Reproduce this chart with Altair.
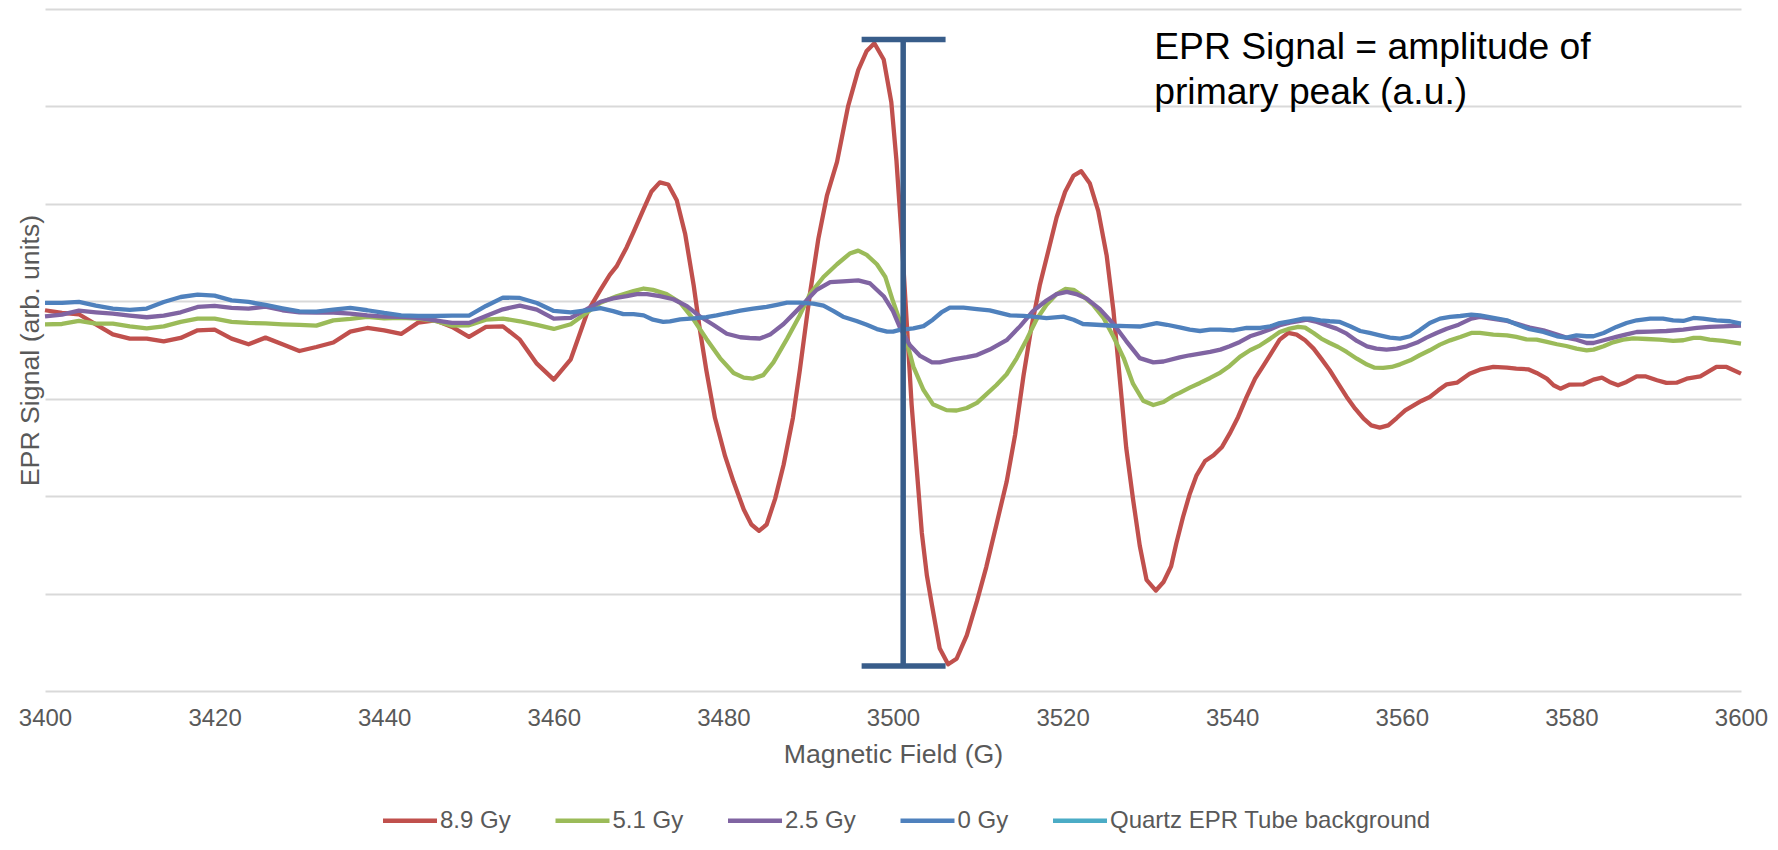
import altair as alt
import pandas as pd

FONT = "Liberation Sans"
GREY = "#595959"

series_names = ["8.9 Gy", "5.1 Gy", "2.5 Gy", "0 Gy", "Quartz EPR Tube background"]
series_colors = ["#C0504D", "#9BBB59", "#8064A2", "#4F81BD", "#4BACC6"]

grid2 = [3400 + 2 * i for i in range(33)]  # 3400..3464

red_x = grid2 + [3465.5, 3466.6, 3467.4, 3468.6, 3469.4, 3470.6, 3471.5, 3472.5, 3473.5, 3474.5,
    3475.5, 3476.5, 3477.2, 3478.0, 3479.0, 3480.2, 3481.2, 3482.4, 3483.3, 3484.2, 3485.1, 3486.1,
    3487.1, 3488.2, 3489.0, 3490.2, 3491.2, 3492.2, 3493.4, 3494.7, 3495.9, 3496.9, 3497.8, 3498.9,
    3499.8, 3500.4, 3501.0, 3501.6, 3502.2, 3502.8, 3503.4, 3504.0, 3504.6, 3505.5, 3506.5, 3507.5,
    3508.7, 3509.9, 3511.0, 3512.2, 3513.4, 3514.4, 3515.4, 3516.3, 3517.3, 3518.3, 3519.3, 3520.3,
    3521.3, 3522.2, 3523.2, 3524.2, 3525.2, 3526.0, 3526.8, 3527.5, 3528.3, 3529.1, 3529.9, 3531.0,
    3531.9, 3532.8, 3533.4, 3534.2, 3535.0, 3535.8, 3536.8, 3537.8, 3538.8, 3539.7, 3540.7, 3541.7,
    3542.7, 3543.7, 3544.7, 3545.6, 3546.6, 3547.6, 3548.6, 3549.6, 3550.5, 3551.5, 3552.5, 3553.5,
    3554.5, 3555.5, 3556.4, 3557.4, 3558.4, 3559.4, 3560.4, 3561.4, 3562.3, 3563.3, 3564.3, 3565.3,
    3566.5, 3568.0, 3569.2, 3570.8, 3572.4, 3573.5, 3574.9, 3575.9, 3577.1, 3577.9, 3578.7, 3579.8,
    3581.4, 3582.6, 3583.6, 3584.5, 3585.5, 3586.5, 3587.7, 3588.7, 3590.1, 3591.2, 3592.4, 3593.6,
    3595.2, 3596.1, 3597.1, 3598.3, 3600.0]
red_y = [390.8, 388.0, 386.7, 376.4, 366.1, 361.7, 361.7, 358.9, 362.4, 370.2, 370.9, 361.7, 355.9,
    362.7, 355.9, 349.0, 353.1, 357.7, 368.9, 372.6, 370.2, 366.5, 378.1, 380.5, 373.7, 363.4, 373.7,
    374.3, 360.6, 336.0, 319.6, 340.5, 389.7,
    411.7, 427.1, 435.8, 455.5, 470.9, 494.9, 512.4, 522.1, 519.9, 503.7,
    468.7, 416.1, 372.4, 328.6, 280.4, 241.0, 214.7, 186.3, 170.9, 164.4, 170.9, 197.2,
    232.2, 280.4, 328.6, 407.4, 464.3, 508.1, 543.1, 600.0, 637.2, 656.9, 664.8, 648.2,
    604.4, 545.3, 469.0, 381.1, 293.5, 227.9, 162.2, 118.4, 87.8, 44.0, 27.4, 33.1,
    57.1, 92.2, 127.2, 171.0, 214.7, 262.9, 324.2, 372.3, 416.1, 451.1, 486.2, 512.4,
    529.1, 533.5, 521.2, 492.7, 446.8, 389.9, 315.4, 249.8, 197.2, 149.1, 114.0, 103.1,
    111.9, 128.0, 151.2, 178.6, 202.5, 221.4, 236.1, 241.9, 250.5, 264.1, 281.3, 301.8,
    320.6, 334.3, 348.0, 360.6, 367.5, 365.8, 360.0, 351.4, 341.1, 329.2, 315.5, 301.8,
    289.8, 279.5, 272.7, 270.3, 272.7, 280.2, 288.1, 293.2, 297.7, 301.8, 308.6, 314.8,
    316.5, 325.7, 329.8, 332.6, 331.9, 330.9, 330.2, 326.4, 320.6, 313.8, 310.3, 314.5,
    314.8, 319.6, 321.6, 317.2, 313.8, 317.2, 323.0, 323.0, 318.9, 316.2, 316.5, 320.6,
    323.0, 327.5, 332.6, 332.6, 325.7]

green_x = grid2 + [3465.5, 3467.4, 3469.4, 3470.6, 3471.7, 3473.3, 3474.9, 3476.5, 3478.0, 3479.6,
    3481.2, 3482.4, 3483.5, 3484.7, 3485.9, 3487.5, 3489.0, 3490.2, 3491.8, 3493.4, 3494.9, 3495.9,
    3496.9, 3498.1, 3499.1, 3500.0, 3500.8, 3501.6, 3502.4, 3503.6, 3504.7, 3506.3, 3507.5, 3508.7,
    3509.9, 3511.0, 3512.2, 3513.4, 3514.6, 3515.8, 3516.9, 3518.1, 3519.3, 3520.3, 3521.3, 3522.4,
    3523.6, 3524.8, 3526.0, 3527.2, 3528.3, 3529.5, 3530.7, 3531.9, 3533.1, 3533.8, 3535.0, 3536.2,
    3537.4, 3538.6, 3539.7, 3540.9, 3542.1, 3543.3, 3544.5, 3545.6, 3546.8, 3547.8, 3548.6, 3549.6,
    3550.5, 3551.5, 3552.5, 3553.5, 3554.7, 3555.9, 3556.8, 3557.8, 3558.8, 3559.8, 3561.0, 3562.1,
    3563.3, 3564.5, 3565.7, 3566.9, 3568.2, 3569.2, 3570.8, 3572.4, 3573.5, 3574.7, 3575.9, 3577.1,
    3578.3, 3579.4, 3580.6, 3581.8, 3582.6, 3583.8, 3584.9, 3586.1, 3587.3, 3588.9, 3590.4, 3592.0,
    3593.2, 3594.4, 3595.2, 3596.3, 3597.9, 3600.0]
green_y = [376.4, 376.7, 379.8, 377.1, 377.1, 374.3, 372.3, 374.3, 378.8, 382.2, 382.2, 378.8, 377.8,
    377.4, 376.4, 375.7, 375.0, 380.4, 381.9, 383.9, 382.5, 382.9, 382.2, 379.8, 375.0, 375.4, 381.2,
    382.2, 379.5, 375.7, 371.6, 376.4, 389.0,
    398.6, 405.2, 410.4, 413.1, 411.7, 407.4, 398.6, 381.1, 361.4, 341.7,
    326.4, 321.6, 320.7, 324.2, 337.3, 361.4, 385.5, 407.4, 424.9, 438.0, 449.0, 452.0,
    447.6, 438.0, 424.9, 400.0, 380.0, 359.2, 332.9, 308.9, 294.4, 288.3, 287.9, 290.5,
    295.7, 304.5, 314.1, 325.1, 341.7, 361.4, 381.1, 396.4, 407.4, 412.6, 411.7, 405.2,
    396.4, 383.3, 363.6, 341.7, 315.4, 297.9, 293.5, 296.6, 303.2, 306.0, 311.4, 316.2,
    321.3, 326.8, 333.6, 342.9, 349.7, 354.8, 361.7, 368.5, 371.9, 373.7, 373.0, 367.5,
    361.7, 357.2, 353.1, 348.0, 341.1, 335.0, 331.9, 331.6, 332.6, 335.3, 339.4, 344.6,
    349.7, 355.5, 359.9, 363.4, 367.5, 367.5, 365.8, 365.1, 363.4, 361.0, 360.6, 358.3,
    355.9, 354.1, 351.4, 349.7, 350.4, 353.8, 357.9, 360.6, 362.0, 361.3, 360.6, 359.3,
    360.0, 362.4, 362.4, 360.6, 359.3, 356.5]

purple_x = grid2 + [3465.5, 3467.0, 3468.6, 3469.8, 3471.0, 3472.5, 3474.1, 3475.7, 3477.2, 3478.8,
    3480.4, 3482.0, 3483.1, 3484.3, 3485.5, 3487.1, 3488.6, 3489.8, 3491.0, 3492.6,
    3494.1, 3495.9, 3497.3, 3498.9, 3500.0, 3500.8, 3502.0, 3503.2, 3504.6, 3505.5,
    3507.1, 3508.7, 3509.9, 3511.4, 3513.4, 3515.0, 3516.5, 3518.1, 3519.3, 3520.5,
    3521.6, 3522.8, 3524.4, 3526.0, 3527.5, 3529.1, 3530.7, 3531.9, 3533.8, 3535.0,
    3536.2, 3537.4, 3538.6, 3539.7, 3540.9, 3542.1, 3543.3, 3544.5, 3545.6, 3546.8,
    3548.0, 3548.8, 3550.0, 3551.1, 3552.3, 3553.5, 3554.7, 3555.9, 3557.0, 3558.2,
    3559.4, 3560.6, 3561.8, 3562.9, 3564.1, 3565.3, 3566.7, 3568.2, 3569.2, 3570.8,
    3572.4, 3573.5, 3575.1, 3576.7, 3578.3, 3579.4, 3580.6, 3581.8, 3582.6, 3583.8,
    3585.3, 3586.5, 3587.7, 3589.3, 3591.2, 3593.2, 3594.8, 3596.3, 3597.9, 3600.0]
purple_y = [384.6, 386.3, 390.4, 388.7, 387.3, 385.3, 383.6, 385.3, 388.7, 394.2, 395.2, 393.2, 392.5,
    394.5, 390.8, 388.7, 388.4, 388.5, 387.3, 385.6, 384.3, 383.9, 382.9, 380.5, 377.8, 377.8, 384.9,
    391.8, 395.6, 391.4, 382.2, 382.9, 392.5,
    399.5, 403.0, 405.2, 407.4, 407.4, 405.2, 402.1, 395.1, 384.6, 375.9,
    366.7, 363.1, 362.3, 361.8, 365.8, 376.7, 389.9, 400.8, 411.7, 419.6,
    420.5, 421.4, 418.3, 405.2, 389.9, 373.4, 354.8, 343.9, 337.3, 337.3,
    340.4, 342.6, 344.8, 350.5, 360.1, 374.5, 389.9, 400.8, 407.4, 409.6,
    407.4, 403.0, 392.0, 376.7, 359.2, 341.7, 337.3, 338.2, 342.4, 344.6,
    346.3, 348.0, 350.4, 353.8, 358.3, 364.1, 367.5, 371.3, 375.4, 378.1,
    379.8, 381.2, 378.8, 375.4, 371.9, 366.8, 359.3, 353.8, 351.4, 350.4,
    351.4, 353.8, 357.6, 362.7, 367.5, 371.9, 376.0, 382.2, 383.9, 381.9,
    379.8, 377.1, 373.0, 370.2, 365.8, 362.7, 360.6, 357.2, 357.2, 360.0,
    363.4, 366.1, 368.5, 368.9, 369.5, 370.9, 372.6, 373.7, 374.3, 375.0]

blue_x = grid2 + [3465.5, 3467.0, 3468.2, 3469.4, 3470.6, 3471.7, 3472.9, 3473.7, 3474.9, 3476.5,
    3478.0, 3479.2, 3480.4, 3482.0, 3483.5, 3485.1, 3486.3, 3487.5, 3489.0, 3490.6,
    3491.8, 3493.0, 3494.1, 3495.7, 3496.9, 3498.1, 3499.3, 3500.0, 3500.8, 3502.4,
    3503.6, 3504.7, 3505.7, 3506.7, 3508.3, 3509.9, 3511.4, 3512.6, 3513.8, 3515.4,
    3516.5, 3518.1, 3520.1, 3521.3, 3522.4, 3524.0, 3526.0, 3527.5, 3529.1, 3531.1,
    3532.3, 3533.8, 3535.0, 3536.2, 3537.4, 3538.6, 3540.1, 3541.7, 3543.3, 3544.5,
    3545.6, 3546.8, 3548.4, 3549.2, 3550.4, 3551.5, 3552.7, 3553.9, 3555.1, 3556.2,
    3557.4, 3558.6, 3559.8, 3561.0, 3562.1, 3563.3, 3564.5, 3565.7, 3566.9, 3568.2,
    3569.2, 3570.8, 3572.4, 3573.5, 3575.1, 3576.7, 3578.3, 3579.4, 3580.6, 3581.8,
    3582.6, 3583.8, 3585.3, 3586.5, 3587.7, 3589.3, 3590.8, 3592.0, 3593.2, 3594.4,
    3595.5, 3597.1, 3598.7, 3600.0]
blue_y = [398.3, 398.3, 399.3, 395.6, 392.5, 391.1, 392.5, 399.3, 404.4, 406.8, 405.8, 401.0, 399.3,
    396.2, 392.8, 389.7, 389.4, 391.4, 393.2, 390.8, 388.0, 385.6, 384.9, 384.9, 385.3, 385.3, 395.2,
    403.8, 403.4, 398.3, 390.1, 388.7, 390.8,
    392.9, 389.9, 386.8, 386.8, 385.5, 381.1, 378.9, 379.4, 381.5, 382.4,
    383.7, 385.5, 387.7, 390.3, 392.5, 394.2, 396.4, 398.6, 398.6, 397.7,
    395.5, 389.9, 384.2, 379.8, 375.9, 371.5, 368.8, 368.8, 370.6, 372.3,
    374.5, 381.1, 388.5, 393.4, 393.4, 392.0, 390.7, 388.1, 385.5, 385.0,
    384.2, 382.8, 384.2, 381.1, 376.7, 375.9, 374.9, 374.5, 374.1, 377.6,
    375.9, 373.3, 370.9, 369.5, 370.9, 370.9, 370.2, 372.6, 372.6, 374.3,
    377.7, 379.5, 382.2, 382.2, 380.5, 379.5, 378.8, 374.3, 369.5, 367.5,
    365.1, 362.7, 361.7, 364.1, 370.2, 377.7, 382.2, 383.9, 384.9, 386.3,
    385.6, 382.9, 380.5, 376.4, 371.3, 368.5, 364.1, 362.7, 365.1, 364.1,
    364.1, 367.5, 373.7, 377.7, 380.5, 382.2, 382.2, 380.5, 379.8, 382.9,
    382.2, 380.5, 379.5, 377.1]

x_ticks = [3400, 3420, 3440, 3460, 3480, 3500, 3520, 3540, 3560, 3580, 3600]
y_grid = [0, 100, 200, 300, 400, 500, 600, 700]

# amplitude marker (I-beam) and its note
bar_x = [3501.2]
bar_low = [25.6]
bar_high = [668.7]
cap_left = [3496.3, 3496.3]
cap_right = [3506.2, 3506.2]
cap_y = [668.7, 25.6]
note_x = [3530.8]
note_y = [648.5]
note_text = ["EPR Signal = amplitude of\nprimary peak (a.u.)"]

rows = []
for name, xs, ys in [(series_names[0], red_x, red_y), (series_names[1], green_x, green_y),
                     (series_names[2], purple_x, purple_y), (series_names[3], blue_x, blue_y)]:
    assert len(xs) == len(ys), (name, len(xs), len(ys))
    rows += [{"field": x, "signal": y, "series": name} for x, y in zip(xs, ys)]
df = pd.DataFrame(rows)

bar_df = pd.DataFrame({"bx": bar_x, "low": bar_low, "high": bar_high})
cap_df = pd.DataFrame({"x1": cap_left, "x2": cap_right, "cy": cap_y})
note_df = pd.DataFrame({"nx": note_x, "ny": note_y, "label": note_text})

x_scale = alt.Scale(domain=[3400, 3600], nice=False, zero=False)
y_scale = alt.Scale(domain=[0, 700], nice=False, zero=False)
color_scale = alt.Scale(domain=series_names, range=series_colors)

x_axis = alt.Axis(title="Magnetic Field (G)", values=x_ticks, format="d", grid=False, domain=False,
                  ticks=False, tickSize=0, labelPadding=15, labelFontSize=24, labelColor=GREY,
                  labelFont=FONT, labelFlush=False, labelOverlap=False, titleFont=FONT,
                  titleFontSize=26.7, titleColor=GREY,
                  titleFontWeight="normal", titleY=71, titleBaseline="alphabetic")
y_axis = alt.Axis(title="EPR Signal (arb. units)", values=y_grid, labels=False, ticks=False,
                  domain=False, grid=True, gridColor="#D9D9D9", gridWidth=2, titleFont=FONT,
                  titleFontSize=26.7, titleColor=GREY, titleFontWeight="normal", titleAngle=270,
                  titleX=-6.5, titleY=341, titleBaseline="alphabetic", titleAlign="center")
legend = alt.Legend(title=None, orient="none", direction="horizontal", legendX=335.5, legendY=782,
                    symbolType="stroke", symbolSize=2916, symbolStrokeWidth=4.3, labelFontSize=24,
                    labelFont=FONT, labelColor=GREY, labelOffset=0.5, columnPadding=34.5,
                    columns=5, padding=0, labelLimit=1000)

layers = []
for name in series_names[:4]:
    layers.append(
        alt.Chart(df).transform_filter(alt.datum.series == name)
        .mark_line(strokeWidth=4.3, strokeJoin="round")
        .encode(x=alt.X("field:Q", scale=x_scale, axis=x_axis),
                y=alt.Y("signal:Q", scale=y_scale, axis=y_axis),
                color=alt.Color("series:N", scale=color_scale, legend=legend))
    )

bar = alt.Chart(bar_df).mark_rule(strokeWidth=5.5, color="#385D8A").encode(
    x=alt.X("bx:Q", scale=x_scale, axis=x_axis),
    y=alt.Y("low:Q", scale=y_scale, axis=y_axis), y2="high:Q")
caps = alt.Chart(cap_df).mark_rule(strokeWidth=5.5, color="#385D8A").encode(
    x=alt.X("x1:Q", scale=x_scale, axis=x_axis), x2="x2:Q",
    y=alt.Y("cy:Q", scale=y_scale, axis=y_axis))
note = alt.Chart(note_df).mark_text(align="left", baseline="alphabetic", fontSize=37.3,
                                    lineHeight=44.6, lineBreak="\n", font=FONT, color="#000000").encode(
    x=alt.X("nx:Q", scale=x_scale, axis=x_axis),
    y=alt.Y("ny:Q", scale=y_scale, axis=y_axis), text="label:N")

chart = alt.layer(*layers, bar, caps, note).properties(
    width=1696, height=682,
    padding={"left": 45, "top": 9, "right": 37, "bottom": 159},
    autosize=alt.AutoSizeParams(type="none"),
    background="white",
).configure_view(strokeWidth=0)

chart.save("out.html", embed_options={"renderer": "svg", "actions": False})
